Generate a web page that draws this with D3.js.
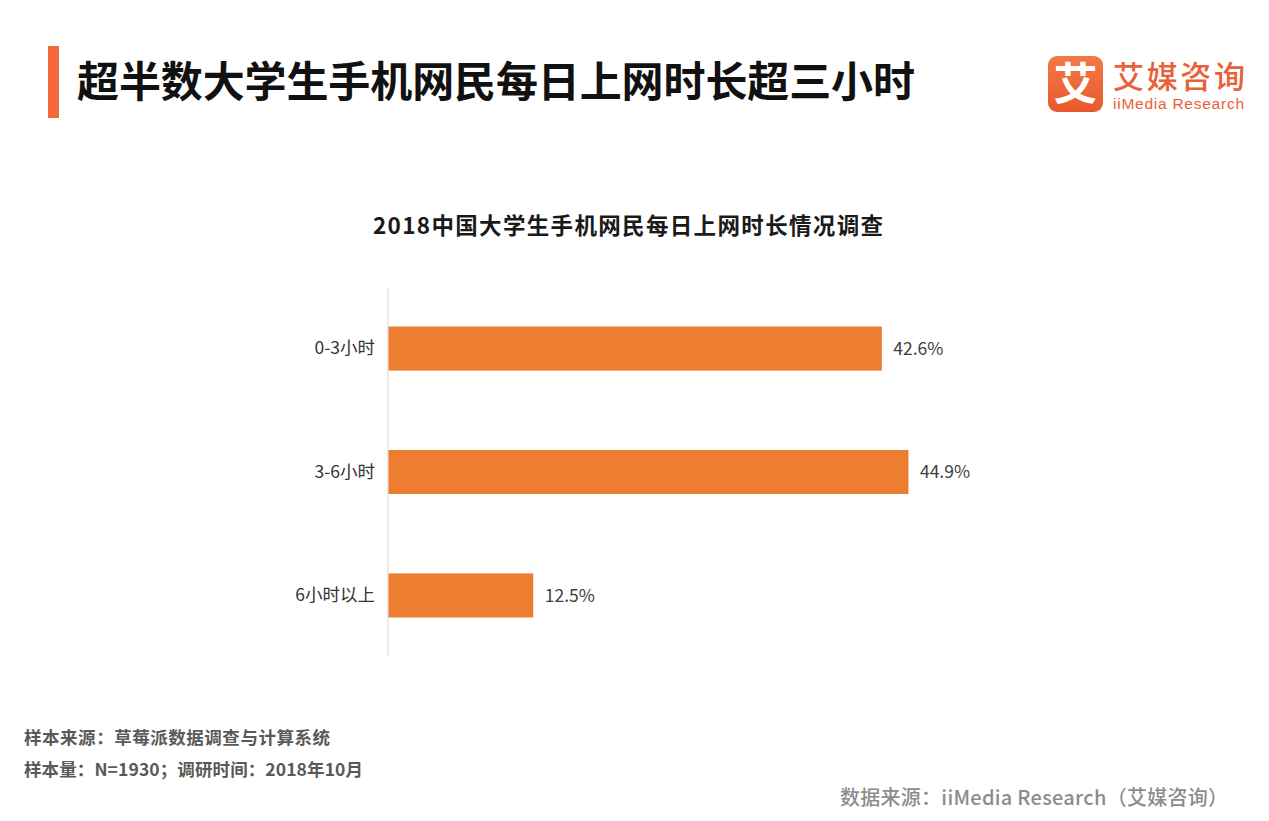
<!DOCTYPE html>
<html>
<head>
<meta charset="utf-8">
<script src="https://cdn.jsdelivr.net/npm/d3@7"></script>
<style>
  html, body { margin: 0; padding: 0; background: #fff; }
  svg { display: block; font-family: "Noto Sans CJK SC", "Noto Sans", sans-serif; }
</style>
</head>
<body>
<svg id="chart" width="1269" height="821"></svg>
<script>
const categories = ["0-3小时", "3-6小时", "6小时以上"];
const values = [42.6, 44.9, 12.5];
const valueLabels = ["42.6%", "44.9%", "12.5%"];
const mainTitle = "超半数大学生手机网民每日上网时长超三小时";
const chartTitle = "2018中国大学生手机网民每日上网时长情况调查";
const notes = ["样本来源：草莓派数据调查与计算系统", "样本量：N=1930；调研时间：2018年10月"];
const noteWidths = [306, 339];
const sourceText = "数据来源：iiMedia Research（艾媒咨询）";

const svg = d3.select("#chart");

// Header accent bar and title
svg.append("rect").attr("x", 48).attr("y", 46).attr("width", 11).attr("height", 72).attr("fill", "#F4683A");
svg.append("text").attr("x", 77).attr("y", 97)
  .attr("font-size", 42).attr("font-weight", 700).attr("fill", "#111")
  .attr("textLength", 838)
  .text(mainTitle);

// Logo
const logo = svg.append("g");
const grad = svg.append("defs").append("linearGradient").attr("id", "lg").attr("x1", 0).attr("y1", 0).attr("x2", 0).attr("y2", 1);
grad.append("stop").attr("offset", "0%").attr("stop-color", "#F47A45");
grad.append("stop").attr("offset", "100%").attr("stop-color", "#E8582E");
logo.append("rect").attr("x", 1048).attr("y", 56).attr("width", 55).attr("height", 56).attr("rx", 9).attr("fill", "url(#lg)");
logo.append("text").attr("x", 1075.5).attr("y", 100).attr("text-anchor", "middle")
  .attr("font-size", 44).attr("font-weight", 700).attr("fill", "#fff").text("艾");
logo.append("text").attr("x", 1113).attr("y", 88)
  .attr("font-size", 31).attr("font-weight", 500).attr("fill", "#EA6038").attr("textLength", 132).text("艾媒咨询");
logo.append("text").attr("x", 1113).attr("y", 109)
  .attr("font-family", "Liberation Sans, Arial, sans-serif")
  .attr("font-size", 15.5).attr("fill", "#EA6038").attr("textLength", 131).text("iiMedia Research");

// Chart title
svg.append("text").attr("x", 628).attr("y", 234).attr("text-anchor", "middle")
  .attr("font-size", 22.5).attr("font-weight", 700).attr("fill", "#1a1a1a")
  .attr("textLength", 510)
  .text(chartTitle);

// Scales
const x = d3.scaleLinear().domain([0, 50]).range([388, 967]);
const y = d3.scaleBand().domain(categories).range([287, 657]).paddingInner(0.643).paddingOuter(0.32);

// Axis line
svg.append("line").attr("x1", 388).attr("x2", 388).attr("y1", 287).attr("y2", 657)
  .attr("stroke", "#d9d9d9").attr("stroke-width", 1);

// Bars
svg.selectAll(".bar").data(values).enter().append("rect")
  .attr("class", "bar")
  .attr("x", x(0) + 0.5)
  .attr("y", (d, i) => y(categories[i]))
  .attr("width", d => x(d) - x(0))
  .attr("height", y.bandwidth())
  .attr("fill", "#ED7D31");

// Category labels
const yAxis = d3.axisLeft(y).tickSize(0).tickPadding(13);
const ag = svg.append("g").attr("transform", "translate(388,0)").call(yAxis);
ag.select(".domain").remove();
ag.selectAll("text").attr("font-size", 17.5).attr("fill", "#333")
  .attr("font-family", "Noto Sans CJK SC, sans-serif");

// Value labels
svg.selectAll(".vl").data(values).enter().append("text")
  .attr("class", "vl")
  .attr("x", d => x(d) + 12)
  .attr("y", (d, i) => y(categories[i]) + y.bandwidth() / 2)
  .attr("dy", "0.35em")
  .attr("font-size", 17.5).attr("fill", "#404040")
  .text((d, i) => valueLabels[i]);

// Notes
svg.selectAll(".note").data(notes).enter().append("text")
  .attr("class", "note")
  .attr("x", 24).attr("y", (d, i) => 744 + i * 32)
  .attr("font-size", 17.5).attr("font-weight", 700).attr("fill", "#595959")
  .attr("textLength", (d, i) => noteWidths[i])
  .text(d => d);

svg.append("text").attr("x", 1228).attr("y", 805).attr("text-anchor", "end")
  .attr("font-size", 20).attr("font-weight", 500).attr("fill", "#8c8c8c")
  .attr("textLength", 388)
  .text(sourceText);
</script>
</body>
</html>
